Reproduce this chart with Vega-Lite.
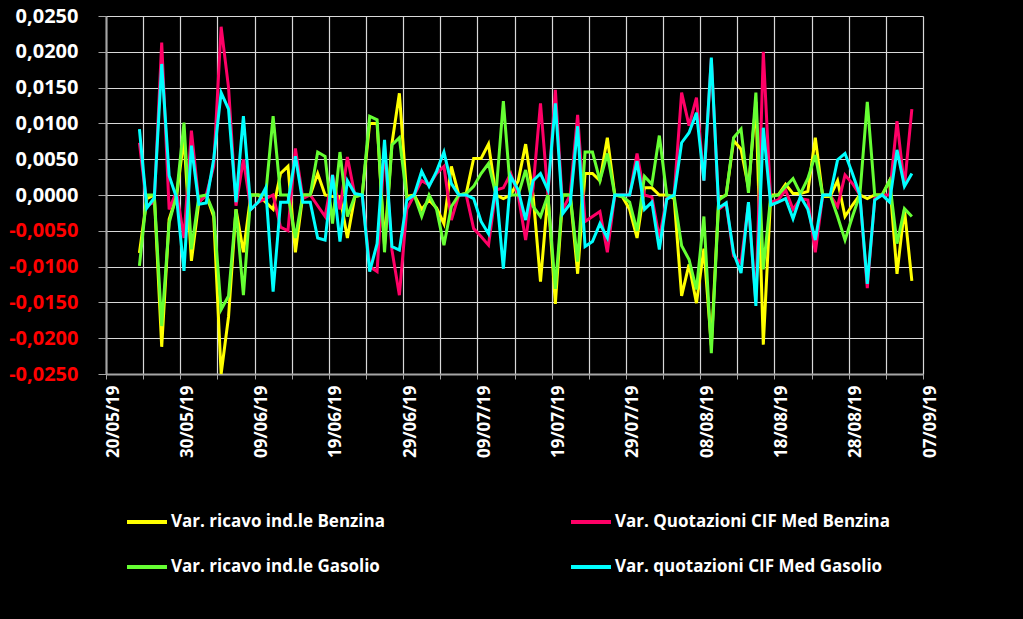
{
  "$schema": "https://vega.github.io/schema/vega-lite/v6.json",
  "width": 817,
  "height": 358,
  "autosize": {"type": "none"},
  "padding": {"left": 106, "top": 16, "right": 100, "bottom": 245},
  "background": "#000000",
  "config": {
    "view": {"stroke": null},
    "font": "Open Sans"
  },
  "data": {
    "values": [
      {"d":"2019-05-24","y":-0.0081,"p":0.0073,"g":-0.0099,"c":0.0092},
      {"d":"2019-05-25","y":-0.0005,"p":-0.0015,"g":0.0000,"c":-0.0018},
      {"d":"2019-05-26","y":0.0000,"p":-0.0010,"g":0.0000,"c":-0.0004},
      {"d":"2019-05-27","y":-0.0212,"p":0.0213,"g":-0.0183,"c":0.0183},
      {"d":"2019-05-28","y":-0.0034,"p":-0.0020,"g":-0.0039,"c":0.0027},
      {"d":"2019-05-29","y":-0.0002,"p":0.0005,"g":0.0000,"c":-0.0004},
      {"d":"2019-05-30","y":0.0080,"p":-0.0060,"g":0.0101,"c":-0.0106},
      {"d":"2019-05-31","y":-0.0092,"p":0.0090,"g":-0.0076,"c":0.0069},
      {"d":"2019-06-01","y":-0.0010,"p":-0.0010,"g":-0.0002,"c":-0.0013},
      {"d":"2019-06-02","y":0.0000,"p":0.0000,"g":0.0000,"c":-0.0011},
      {"d":"2019-06-03","y":-0.0030,"p":0.0040,"g":-0.0025,"c":0.0050},
      {"d":"2019-06-04","y":-0.0250,"p":0.0235,"g":-0.0160,"c":0.0143},
      {"d":"2019-06-05","y":-0.0170,"p":0.0150,"g":-0.0141,"c":0.0120},
      {"d":"2019-06-06","y":-0.0020,"p":-0.0015,"g":-0.0020,"c":-0.0010},
      {"d":"2019-06-07","y":-0.0080,"p":0.0050,"g":-0.0140,"c":0.0110},
      {"d":"2019-06-08","y":0.0000,"p":-0.0020,"g":0.0000,"c":-0.0020},
      {"d":"2019-06-09","y":0.0000,"p":-0.0010,"g":0.0000,"c":-0.0010},
      {"d":"2019-06-10","y":-0.0010,"p":-0.0005,"g":0.0000,"c":0.0010},
      {"d":"2019-06-11","y":-0.0020,"p":0.0000,"g":0.0110,"c":-0.0135},
      {"d":"2019-06-12","y":0.0030,"p":-0.0045,"g":0.0000,"c":-0.0010},
      {"d":"2019-06-13","y":0.0040,"p":-0.0050,"g":0.0000,"c":-0.0010},
      {"d":"2019-06-14","y":-0.0080,"p":0.0065,"g":-0.0060,"c":0.0054},
      {"d":"2019-06-15","y":0.0000,"p":-0.0005,"g":0.0000,"c":-0.0010},
      {"d":"2019-06-16","y":0.0000,"p":0.0000,"g":0.0000,"c":-0.0010},
      {"d":"2019-06-17","y":0.0030,"p":-0.0015,"g":0.0060,"c":-0.0060},
      {"d":"2019-06-18","y":0.0000,"p":-0.0030,"g":0.0054,"c":-0.0063},
      {"d":"2019-06-19","y":-0.0002,"p":0.0028,"g":-0.0040,"c":0.0028},
      {"d":"2019-06-20","y":-0.0002,"p":-0.0020,"g":0.0060,"c":-0.0065},
      {"d":"2019-06-21","y":-0.0060,"p":0.0053,"g":-0.0030,"c":0.0020},
      {"d":"2019-06-22","y":-0.0002,"p":0.0000,"g":-0.0002,"c":0.0002},
      {"d":"2019-06-23","y":0.0000,"p":0.0000,"g":0.0000,"c":0.0000},
      {"d":"2019-06-24","y":0.0100,"p":-0.0100,"g":0.0110,"c":-0.0107},
      {"d":"2019-06-25","y":0.0100,"p":-0.0107,"g":0.0105,"c":-0.0068},
      {"d":"2019-06-26","y":-0.0070,"p":0.0070,"g":-0.0080,"c":0.0077},
      {"d":"2019-06-27","y":0.0072,"p":-0.0077,"g":0.0070,"c":-0.0072},
      {"d":"2019-06-28","y":0.0142,"p":-0.0140,"g":0.0080,"c":-0.0077},
      {"d":"2019-06-29","y":-0.0002,"p":-0.0020,"g":-0.0005,"c":-0.0007},
      {"d":"2019-06-30","y":0.0000,"p":0.0000,"g":0.0000,"c":0.0000},
      {"d":"2019-07-01","y":-0.0020,"p":0.0020,"g":-0.0030,"c":0.0033},
      {"d":"2019-07-02","y":-0.0007,"p":0.0014,"g":0.0000,"c":0.0012},
      {"d":"2019-07-03","y":-0.0018,"p":0.0030,"g":-0.0020,"c":0.0033},
      {"d":"2019-07-04","y":-0.0040,"p":0.0040,"g":-0.0070,"c":0.0060},
      {"d":"2019-07-05","y":0.0040,"p":-0.0035,"g":-0.0016,"c":0.0016},
      {"d":"2019-07-06","y":0.0000,"p":0.0000,"g":0.0000,"c":0.0000},
      {"d":"2019-07-07","y":0.0002,"p":0.0000,"g":0.0002,"c":0.0000},
      {"d":"2019-07-08","y":0.0051,"p":-0.0047,"g":0.0012,"c":-0.0005},
      {"d":"2019-07-09","y":0.0051,"p":-0.0058,"g":0.0030,"c":-0.0037},
      {"d":"2019-07-10","y":0.0071,"p":-0.0070,"g":0.0044,"c":-0.0054},
      {"d":"2019-07-11","y":0.0000,"p":0.0007,"g":0.0000,"c":0.0012},
      {"d":"2019-07-12","y":-0.0005,"p":0.0010,"g":0.0131,"c":-0.0103},
      {"d":"2019-07-13","y":0.0000,"p":0.0030,"g":0.0000,"c":0.0026},
      {"d":"2019-07-14","y":0.0020,"p":0.0000,"g":0.0000,"c":0.0007},
      {"d":"2019-07-15","y":0.0071,"p":-0.0063,"g":0.0035,"c":-0.0035},
      {"d":"2019-07-16","y":0.0000,"p":0.0010,"g":-0.0016,"c":0.0020},
      {"d":"2019-07-17","y":-0.0121,"p":0.0128,"g":-0.0030,"c":0.0030},
      {"d":"2019-07-18","y":0.0000,"p":0.0000,"g":0.0000,"c":0.0007},
      {"d":"2019-07-19","y":-0.0152,"p":0.0147,"g":-0.0131,"c":0.0128},
      {"d":"2019-07-20","y":0.0000,"p":-0.0020,"g":0.0000,"c":-0.0026},
      {"d":"2019-07-21","y":0.0000,"p":0.0000,"g":0.0000,"c":-0.0012},
      {"d":"2019-07-22","y":-0.0110,"p":0.0112,"g":-0.0093,"c":0.0096},
      {"d":"2019-07-23","y":0.0030,"p":-0.0037,"g":0.0060,"c":-0.0072},
      {"d":"2019-07-24","y":0.0030,"p":-0.0030,"g":0.0060,"c":-0.0065},
      {"d":"2019-07-25","y":0.0020,"p":-0.0023,"g":0.0020,"c":-0.0040},
      {"d":"2019-07-26","y":0.0080,"p":-0.0080,"g":0.0058,"c":-0.0060},
      {"d":"2019-07-27","y":0.0000,"p":0.0000,"g":0.0000,"c":0.0000},
      {"d":"2019-07-28","y":-0.0002,"p":0.0000,"g":-0.0002,"c":0.0000},
      {"d":"2019-07-29","y":-0.0020,"p":0.0000,"g":-0.0010,"c":0.0000},
      {"d":"2019-07-30","y":-0.0060,"p":0.0058,"g":-0.0050,"c":0.0047},
      {"d":"2019-07-31","y":0.0010,"p":0.0000,"g":0.0026,"c":-0.0020},
      {"d":"2019-08-01","y":0.0010,"p":-0.0003,"g":0.0015,"c":-0.0010},
      {"d":"2019-08-02","y":0.0000,"p":-0.0060,"g":0.0083,"c":-0.0076},
      {"d":"2019-08-03","y":0.0000,"p":-0.0005,"g":0.0000,"c":-0.0006},
      {"d":"2019-08-04","y":-0.0005,"p":0.0000,"g":-0.0002,"c":0.0000},
      {"d":"2019-08-05","y":-0.0141,"p":0.0143,"g":-0.0071,"c":0.0073},
      {"d":"2019-08-06","y":-0.0097,"p":0.0097,"g":-0.0090,"c":0.0087},
      {"d":"2019-08-07","y":-0.0151,"p":0.0136,"g":-0.0132,"c":0.0115},
      {"d":"2019-08-08","y":-0.0075,"p":0.0020,"g":-0.0030,"c":0.0020},
      {"d":"2019-08-09","y":-0.0210,"p":0.0190,"g":-0.0221,"c":0.0192},
      {"d":"2019-08-10","y":-0.0005,"p":-0.0020,"g":-0.0007,"c":-0.0018},
      {"d":"2019-08-11","y":0.0000,"p":-0.0012,"g":0.0000,"c":-0.0011},
      {"d":"2019-08-12","y":0.0076,"p":-0.0085,"g":0.0080,"c":-0.0081},
      {"d":"2019-08-13","y":0.0064,"p":-0.0095,"g":0.0092,"c":-0.0109},
      {"d":"2019-08-14","y":0.0010,"p":-0.0012,"g":0.0003,"c":-0.0010},
      {"d":"2019-08-15","y":0.0130,"p":-0.0150,"g":0.0143,"c":-0.0155},
      {"d":"2019-08-16","y":-0.0209,"p":0.0200,"g":-0.0104,"c":0.0094},
      {"d":"2019-08-17","y":0.0000,"p":-0.0010,"g":-0.0002,"c":-0.0014},
      {"d":"2019-08-18","y":0.0000,"p":-0.0007,"g":0.0000,"c":-0.0010},
      {"d":"2019-08-19","y":0.0015,"p":0.0007,"g":0.0012,"c":-0.0005},
      {"d":"2019-08-20","y":0.0002,"p":-0.0020,"g":0.0023,"c":-0.0033},
      {"d":"2019-08-21","y":0.0002,"p":-0.0005,"g":0.0002,"c":-0.0002},
      {"d":"2019-08-22","y":0.0005,"p":-0.0007,"g":0.0023,"c":-0.0020},
      {"d":"2019-08-23","y":0.0080,"p":-0.0080,"g":0.0056,"c":-0.0063},
      {"d":"2019-08-24","y":-0.0002,"p":0.0000,"g":0.0000,"c":0.0000},
      {"d":"2019-08-25","y":-0.0002,"p":0.0000,"g":0.0000,"c":0.0000},
      {"d":"2019-08-26","y":0.0020,"p":-0.0016,"g":-0.0030,"c":0.0049},
      {"d":"2019-08-27","y":-0.0030,"p":0.0028,"g":-0.0063,"c":0.0058},
      {"d":"2019-08-28","y":-0.0014,"p":0.0016,"g":-0.0030,"c":0.0030},
      {"d":"2019-08-29","y":0.0000,"p":0.0000,"g":0.0000,"c":0.0000},
      {"d":"2019-08-30","y":-0.0005,"p":-0.0130,"g":0.0130,"c":-0.0124},
      {"d":"2019-08-31","y":0.0000,"p":-0.0005,"g":0.0000,"c":-0.0007},
      {"d":"2019-09-01","y":0.0000,"p":0.0000,"g":0.0000,"c":0.0000},
      {"d":"2019-09-02","y":0.0020,"p":0.0000,"g":0.0020,"c":-0.0010},
      {"d":"2019-09-03","y":-0.0110,"p":0.0103,"g":-0.0068,"c":0.0063},
      {"d":"2019-09-04","y":-0.0020,"p":0.0012,"g":-0.0019,"c":0.0012},
      {"d":"2019-09-05","y":-0.0120,"p":0.0120,"g":-0.0030,"c":0.0030}
    ]
  },
  "transform": [
    {"fold": ["y", "p", "g", "c"], "as": ["s", "v"]}
  ],
  "mark": {"type": "line", "strokeWidth": 3, "strokeJoin": "miter"},
  "encoding": {
    "x": {
      "field": "d",
      "type": "temporal",
      "timeUnit": "utcyearmonthdate",
      "bandPosition": 0.5,
      "scale": {
        "type": "utc",
        "domain": [
          {"year": 2019, "month": 5, "date": 20, "utc": true},
          {"year": 2019, "month": 9, "date": 7, "utc": true}
        ]
      },
      "axis": {
        "title": null,
        "values": [
          {"year": 2019, "month": 5, "date": 20, "utc": true},
          {"year": 2019, "month": 5, "date": 25, "utc": true},
          {"year": 2019, "month": 5, "date": 30, "utc": true},
          {"year": 2019, "month": 6, "date": 4, "utc": true},
          {"year": 2019, "month": 6, "date": 9, "utc": true},
          {"year": 2019, "month": 6, "date": 14, "utc": true},
          {"year": 2019, "month": 6, "date": 19, "utc": true},
          {"year": 2019, "month": 6, "date": 24, "utc": true},
          {"year": 2019, "month": 6, "date": 29, "utc": true},
          {"year": 2019, "month": 7, "date": 4, "utc": true},
          {"year": 2019, "month": 7, "date": 9, "utc": true},
          {"year": 2019, "month": 7, "date": 14, "utc": true},
          {"year": 2019, "month": 7, "date": 19, "utc": true},
          {"year": 2019, "month": 7, "date": 24, "utc": true},
          {"year": 2019, "month": 7, "date": 29, "utc": true},
          {"year": 2019, "month": 8, "date": 3, "utc": true},
          {"year": 2019, "month": 8, "date": 8, "utc": true},
          {"year": 2019, "month": 8, "date": 13, "utc": true},
          {"year": 2019, "month": 8, "date": 18, "utc": true},
          {"year": 2019, "month": 8, "date": 23, "utc": true},
          {"year": 2019, "month": 8, "date": 28, "utc": true},
          {"year": 2019, "month": 9, "date": 2, "utc": true},
          {"year": 2019, "month": 9, "date": 7, "utc": true}
        ],
        "labelExpr": "round((datum.value - utc(2019,4,20)) / 86400000) % 10 == 0 ? utcFormat(datum.value, '%d/%m/%y') : ''",
        "labelAngle": -90,
        "labelOffset": 7,
        "labelColor": "#ffffff",
        "labelFont": "Open Sans",
        "labelFontWeight": "bold",
        "labelFontSize": 17,
        "labelPadding": 6,
        "labelOverlap": false,
        "labelFlush": false,
        "tickColor": "#a6a6a6",
        "tickSize": 5,
        "domainColor": "#a6a6a6",
        "domainWidth": 2,
        "grid": true,
        "gridColor": "#d9d9d9",
        "gridWidth": 1.2
      }
    },
    "y": {
      "field": "v",
      "type": "quantitative",
      "scale": {"domain": [-0.025, 0.025], "nice": false, "zero": false},
      "axis": {
        "title": null,
        "values": [-0.025, -0.02, -0.015, -0.01, -0.005, 0, 0.005, 0.01, 0.015, 0.02, 0.025],
        "labelExpr": "replace(replace(format(datum.value, '.4f'), '.', ','), '\u2212', '-')",
        "labelColor": {"condition": {"test": "datum.value < 0", "value": "#ff0000"}, "value": "#ffffff"},
        "labelFont": "Open Sans",
        "labelFontWeight": "bold",
        "labelFontSize": 20,
        "labelPadding": 20,
        "tickColor": "#a6a6a6",
        "tickSize": 8,
        "domainColor": "#a6a6a6",
        "domainWidth": 2,
        "grid": true,
        "gridColor": "#d9d9d9",
        "gridWidth": 1.2
      }
    },
    "color": {
      "field": "s",
      "type": "nominal",
      "scale": {
        "domain": ["y", "p", "g", "c"],
        "range": ["#ffff00", "#ff0066", "#66ff33", "#00ffff"]
      },
      "legend": {
        "title": null,
        "orient": "none",
        "direction": "horizontal",
        "legendX": 19,
        "legendY": 484,
        "columns": 2,
        "columnPadding": 177,
        "rowPadding": 15,
        "symbolType": "stroke",
        "symbolSize": 1600,
        "symbolStrokeWidth": 4,
        "labelOffset": 2,
        "labelColor": "#ffffff",
        "labelFont": "Open Sans",
        "labelFontWeight": "bold",
        "labelFontSize": 17,
        "labelLimit": 400,
        "labelExpr": "datum.value == 'y' ? 'Var. ricavo ind.le Benzina' : datum.value == 'p' ? 'Var. Quotazioni CIF Med Benzina' : datum.value == 'g' ? 'Var. ricavo ind.le Gasolio' : 'Var. quotazioni CIF Med Gasolio'"
      }
    }
  }
}
